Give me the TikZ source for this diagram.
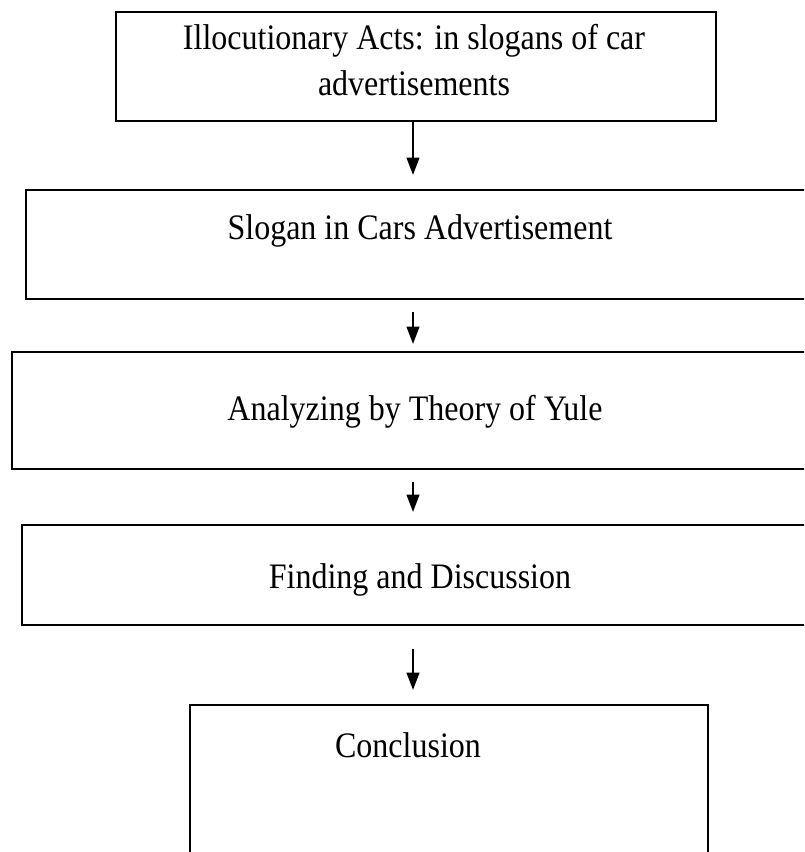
\documentclass[tikz,border=0pt]{standalone}
\usepackage{fontspec}
\usepackage{graphicx}
\setmainfont{Liberation Serif}
\usetikzlibrary{arrows.meta}
\newcommand{\tallt}[1]{\scalebox{1}[1.12]{#1}}
\begin{document}
\begin{tikzpicture}[x=0.75pt,y=-0.75pt,
  box/.style={draw=black,line width=1.6pt,inner sep=0pt},
  lbl/.style={font=\fontsize{24}{33}\selectfont,align=center,inner sep=0pt},
  arr/.style={line width=1.6pt,-{Triangle[length=13pt,width=9.5pt]}}]
\useasboundingbox (0,0) rectangle (804,852);
\clip (0,0) rectangle (804,852);
\fill[white] (0,0) rectangle (804,852);
% boxes
\node[box,minimum width=600*0.75pt,minimum height=109*0.75pt] (b1) at (416,66.5) {};
\node[box,minimum width=784*0.75pt,minimum height=109*0.75pt] (b2) at (418,244.5) {};
\node[box,minimum width=798*0.75pt,minimum height=117*0.75pt] (b3) at (411,410.5) {};
\node[box,minimum width=788*0.75pt,minimum height=100*0.75pt] (b4) at (416,575) {};
\node[box,minimum width=518*0.75pt,minimum height=160*0.75pt] (b5) at (449,785) {};
% texts
\node[lbl] (t1) at (414,60) {\tallt{Illocutionary Acts: in slogans of car}\\[2pt]\tallt{advertisements}};
\node[lbl] (t2) at (420,231) {\tallt{Slogan in Cars Advertisement}};
\node[lbl] (t3) at (415,412) {\tallt{Analyzing by Theory of Yule}};
\node[lbl] (t4) at (420,580) {\tallt{Finding and Discussion}};
\node[lbl] (t5) at (408,745) {\tallt{Conclusion}};
% arrows
\coordinate (ax) at (413,0);
\draw[arr] (b1.south -| ax) -- ([yshift=14*0.75pt]b2.north -| ax);
\draw[arr] ([yshift=-12*0.75pt]b2.south -| ax) -- ([yshift=7*0.75pt]b3.north -| ax);
\draw[arr] ([yshift=-12*0.75pt]b3.south -| ax) -- ([yshift=12*0.75pt]b4.north -| ax);
\draw[arr] ([yshift=-23*0.75pt]b4.south -| ax) -- ([yshift=14*0.75pt]b5.north -| ax);
\end{tikzpicture}
\end{document}
